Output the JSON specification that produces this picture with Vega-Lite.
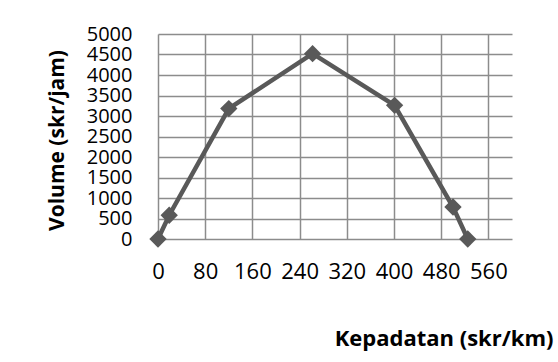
{
  "$schema": "https://vega.github.io/schema/vega-lite/v6.json",
  "autosize": "none",
  "width": 354,
  "height": 205,
  "padding": {"left": 158, "top": 34, "right": 46, "bottom": 123},
  "background": "white",
  "config": {
    "view": {"stroke": null},
    "font": "Open Sans",
    "axis": {
      "gridColor": "#8c8c8c",
      "gridWidth": 1.5,
      "gridOpacity": 1,
      "domain": false,
      "ticks": false,
      "labelColor": "#000000",
      "labelFont": "Open Sans",
      "titleColor": "#000000",
      "titleFont": "Open Sans",
      "titleFontWeight": "bold"
    }
  },
  "data": {
    "values": [
      {"kepadatan": 0, "volume": 0},
      {"kepadatan": 19, "volume": 580},
      {"kepadatan": 120, "volume": 3180},
      {"kepadatan": 262, "volume": 4520},
      {"kepadatan": 401, "volume": 3260},
      {"kepadatan": 500, "volume": 780},
      {"kepadatan": 525, "volume": 0}
    ]
  },
  "encoding": {
    "x": {
      "field": "kepadatan",
      "type": "quantitative",
      "scale": {"domain": [0, 600], "nice": false, "zero": true},
      "axis": {
        "values": [0, 80, 160, 240, 320, 400, 480, 560],
        "format": "d",
        "labelFontSize": 22,
        "labelPadding": 22,
        "labelOverlap": false,
        "labelFlush": false,
        "title": "Kepadatan (skr/km)",
        "titleFontSize": 22,
        "titleAnchor": "end",
        "titleAlign": "right",
        "titleX": 395,
        "titleY": 99,
        "titleBaseline": "middle"
      }
    },
    "y": {
      "field": "volume",
      "type": "quantitative",
      "scale": {"domain": [0, 5000], "nice": false},
      "axis": {
        "values": [0, 500, 1000, 1500, 2000, 2500, 3000, 3500, 4000, 4500, 5000],
        "format": "d",
        "labelFontSize": 20,
        "labelPadding": 26,
        "labelBaseline": "middle",
        "labelOverlap": false,
        "labelFlush": false,
        "title": "Volume (skr/jam)",
        "titleFontSize": 21,
        "titleX": -101,
        "titleY": 106,
        "titleAngle": -90,
        "titleAlign": "center",
        "titleBaseline": "middle"
      }
    }
  },
  "layer": [
    {
      "mark": {"type": "line", "color": "#595959", "strokeWidth": 4.5}
    },
    {
      "mark": {"type": "point", "shape": "diamond", "filled": true, "color": "#595959", "size": 300, "opacity": 1}
    }
  ]
}
